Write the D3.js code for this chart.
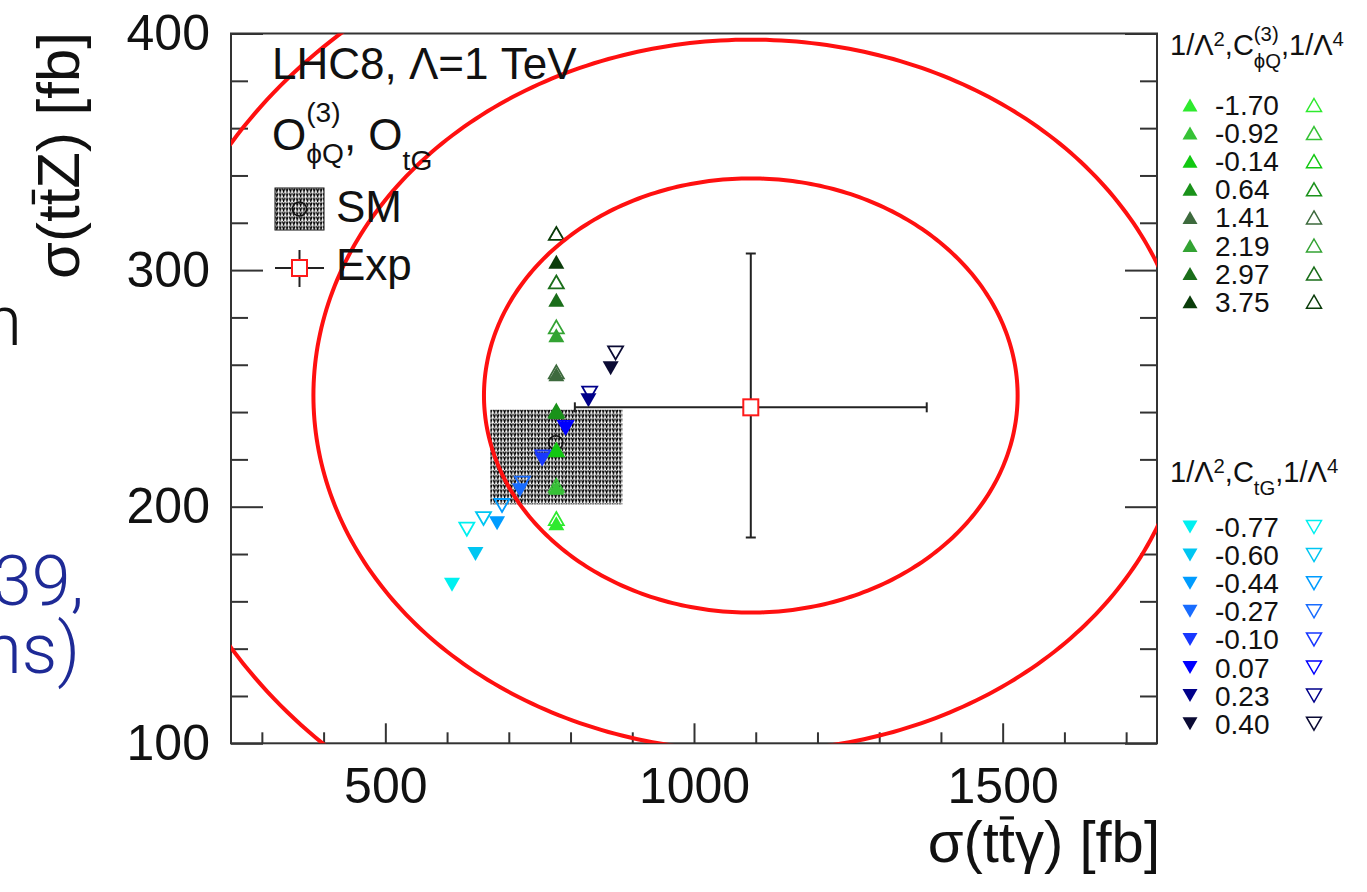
<!DOCTYPE html>
<html>
<head>
<meta charset="utf-8">
<script src="https://cdn.jsdelivr.net/npm/d3@7"></script>
<style>
  body { margin: 0; background: #fff; }
  svg { display: block; font-family: "Liberation Sans", Arial, Helvetica, sans-serif; }
</style>
</head>
<body>
<svg id="chart" width="1367" height="892"></svg>
<script>
// ---- data ----
const xDomain = [250, 1750];
const yDomain = [100, 400];
const xMajorTicks = [500, 1000, 1500];
const xMinorTicks = [300, 400, 600, 700, 800, 900, 1100, 1200, 1300, 1400, 1600, 1700];
const yMajorTicks = [100, 200, 300, 400];
const yMinorTicks = [120, 140, 160, 180, 220, 240, 260, 280, 320, 340, 360, 380];

// measurement (Exp) with errors
const expPoint = { x: 1092, y: 242 };
const expErrX = [285, 285];     // minus, plus
const expErrY = [55, 65];

// chi2 contours: centre, widths and delta-chi2 levels (68%, 95%, 99.7%)
const fitCentre = { x: 1092, y: 247 };
const fitSigma = { x: 285, y: 60.5 };
const contourLevels = [2.30, 6.18, 11.83];

// SM prediction with scale band
const smPoint = { x: 776, y: 227 };
const smBandX = [670, 884];
const smBandY = [201, 241];

// C_phiQ^(3) scan
const phiQValues = [-1.70, -0.92, -0.14, 0.64, 1.41, 2.19, 2.97, 3.75];
const phiQColours = ["#2eea2e", "#36c236", "#12c812", "#1a921a", "#3d6a3d", "#33a333", "#1a6e1a", "#0a3c0a"];
const phiQLinX = [777, 777, 777, 777, 777, 777, 777, 777];
const phiQLinY = [193, 208, 224, 240, 256, 272.5, 287.5, 303.5];
const phiQQuadX = [777, 777, 777, 777, 777, 777, 777, 777];
const phiQQuadY = [195, 209, 224, 240.5, 257, 276, 295, 315.5];

// C_tG scan
const tGValues = [-0.77, -0.60, -0.44, -0.27, -0.10, 0.07, 0.23, 0.40];
const tGColours = ["#00f0f0", "#00c6f2", "#009cff", "#186cff", "#1838ff", "#0000ff", "#00008a", "#0b0b34"];
const tGLinX = [608, 646, 681, 718, 754, 792, 829, 865];
const tGLinY = [167, 180, 193, 207, 220, 233, 245, 258.5];
const tGQuadX = [632, 659, 689, 722, 755, 792, 831, 873];
const tGQuadY = [190.5, 195, 200.5, 210, 221, 233.5, 248, 265];

// ---- drawing ----
const svg = d3.select("#chart");
const pLeft = 231, pRight = 1157, pTop = 33.5, pBottom = 743.3;

const x = d3.scaleLinear().domain(xDomain).range([pLeft, pRight]);
const y = d3.scaleLinear().domain(yDomain).range([pBottom, pTop]);

const defs = svg.append("defs");
defs.append("clipPath").attr("id", "plotClip")
  .append("rect").attr("x", pLeft).attr("y", pTop)
  .attr("width", pRight - pLeft).attr("height", pBottom - pTop);

// dense ROOT-like "vvvv" hatch for the SM band
const hatch = defs.append("pattern")
  .attr("id", "smHatch").attr("patternUnits", "userSpaceOnUse")
  .attr("width", 3.4).attr("height", 4.7);
hatch.append("rect").attr("width", 3.4).attr("height", 4.7).attr("fill", "#fff");
hatch.append("path")
  .attr("d", "M0.3,0.4L1.4,3.8L2.5,0.4")
  .attr("stroke", "#000").attr("stroke-width", 1.25).attr("fill", "none");

function tri(w, h, down) {
  const s = down ? -1 : 1;
  return `M0,${-s * h / 2}L${w / 2},${s * h / 2}L${-w / 2},${s * h / 2}Z`;
}
const fmtCoef = d => d3.format(".2f")(d).replace("−", "-");

// slide fragments cut at the left edge
const slide = svg.append("g")
  .style("font-family", "Roboto, 'Open Sans', 'Liberation Sans', sans-serif")
  .style("font-weight", 300).attr("font-size", 70).attr("text-anchor", "end");
slide.append("text").attr("x", 22).attr("y", 345).attr("fill", "#111").text("n");
slide.append("text").attr("x", 84).attr("y", 605).attr("fill", "#1e2a96").text("39,");
slide.append("text").attr("x", 80).attr("y", 673).attr("fill", "#1e2a96").text("ns)");

// axes
function styleAxis(g) {
  g.select(".domain").remove();
  g.selectAll(".tick line").attr("stroke", "#333").attr("stroke-width", 2);
  g.selectAll(".tick text").attr("fill", "#111").attr("font-size", 50)
    .attr("font-family", "'Liberation Sans', Arial, Helvetica, sans-serif");
}
svg.append("g").attr("transform", `translate(0,${pBottom})`)
  .call(d3.axisBottom(x).tickValues(xMinorTicks).tickSizeInner(-11).tickSizeOuter(0).tickFormat(""))
  .call(styleAxis);
svg.append("g").attr("transform", `translate(0,${pBottom})`)
  .call(d3.axisBottom(x).tickValues(xMajorTicks).tickSizeInner(-20).tickSizeOuter(0).tickPadding(24).tickFormat(d3.format("d")))
  .call(styleAxis);
svg.append("g").attr("transform", `translate(${pLeft},0)`)
  .call(d3.axisLeft(y).tickValues(yMinorTicks).tickSizeInner(-17).tickSizeOuter(0).tickFormat(""))
  .call(styleAxis);
svg.append("g").attr("transform", `translate(${pLeft},0)`)
  .call(d3.axisLeft(y).tickValues(yMajorTicks).tickSizeInner(-32).tickSizeOuter(0).tickPadding(21).tickFormat(d3.format("d")))
  .call(styleAxis);
svg.append("g").attr("transform", `translate(${pRight},0)`)
  .call(d3.axisRight(y).tickValues(yMinorTicks).tickSizeInner(-17).tickSizeOuter(0).tickFormat(""))
  .call(styleAxis);
svg.append("g").attr("transform", `translate(${pRight},0)`)
  .call(d3.axisRight(y).tickValues(yMajorTicks).tickSizeInner(-32).tickSizeOuter(0).tickFormat(""))
  .call(styleAxis);

// frame
svg.append("rect").attr("x", pLeft).attr("y", pTop)
  .attr("width", pRight - pLeft).attr("height", pBottom - pTop)
  .attr("fill", "none").attr("stroke", "#333").attr("stroke-width", 2);

const plot = svg.append("g").attr("clip-path", "url(#plotClip)");

// SM band and central value
plot.append("rect")
  .attr("x", x(smBandX[0])).attr("y", y(smBandY[1]))
  .attr("width", x(smBandX[1]) - x(smBandX[0]))
  .attr("height", y(smBandY[0]) - y(smBandY[1]))
  .attr("fill", "url(#smHatch)");
plot.append("circle").attr("cx", x(smPoint.x)).attr("cy", y(smPoint.y)).attr("r", 7)
  .attr("fill", "none").attr("stroke", "#111").attr("stroke-width", 1.6);

// markers
function drawSeries(xs, ys, colours, down, open) {
  plot.append("g").selectAll("path")
    .data(xs.map((v, i) => ({ x: v, y: ys[i], c: colours[i] })))
    .join("path")
    .attr("transform", d => `translate(${x(d.x)},${y(d.y)})`)
    .attr("d", open ? tri(15, 13, down) : tri(16, 14, down))
    .attr("fill", open ? "none" : d => d.c)
    .attr("stroke", open ? d => d.c : "none")
    .attr("stroke-width", 1.8);
}
drawSeries(phiQQuadX, phiQQuadY, phiQColours, false, true);
drawSeries(phiQLinX, phiQLinY, phiQColours, false, false);
drawSeries(tGQuadX, tGQuadY, tGColours, true, true);
drawSeries(tGLinX, tGLinY, tGColours, true, false);

// chi2 contours
const angles = d3.range(0, 2 * Math.PI, Math.PI / 180);
const contourLine = d3.line().x(d => x(d[0])).y(d => y(d[1])).curve(d3.curveLinearClosed);
plot.selectAll("path.contour")
  .data(contourLevels)
  .join("path").attr("class", "contour")
  .attr("d", c => contourLine(angles.map(a => [
    fitCentre.x + Math.sqrt(c) * fitSigma.x * Math.cos(a),
    fitCentre.y + Math.sqrt(c) * fitSigma.y * Math.sin(a)])))
  .attr("fill", "none").attr("stroke", "#ff1010").attr("stroke-width", 4);

// experimental point
const ex = plot.append("g").attr("stroke", "#222").attr("stroke-width", 2);
const xl = x(expPoint.x - expErrX[0]), xr = x(expPoint.x + expErrX[1]);
const yb = y(expPoint.y - expErrY[0]), yt = y(expPoint.y + expErrY[1]);
ex.append("line").attr("x1", xl).attr("x2", xr).attr("y1", y(expPoint.y)).attr("y2", y(expPoint.y));
ex.append("line").attr("x1", x(expPoint.x)).attr("x2", x(expPoint.x)).attr("y1", yt).attr("y2", yb);
[xl, xr].forEach(v => ex.append("line").attr("x1", v).attr("x2", v)
  .attr("y1", y(expPoint.y) - 5).attr("y2", y(expPoint.y) + 5));
[yt, yb].forEach(v => ex.append("line").attr("y1", v).attr("y2", v)
  .attr("x1", x(expPoint.x) - 5).attr("x2", x(expPoint.x) + 5));
plot.append("rect").attr("x", x(expPoint.x) - 7.5).attr("y", y(expPoint.y) - 8)
  .attr("width", 15).attr("height", 16)
  .attr("fill", "#fff").attr("stroke", "#ff1a1a").attr("stroke-width", 2);

// rich text helper: parts {t, s: scale, dy: baseline shift in em, stack: [part, part]}
function rich(g, x0, base, size, parts) {
  let cx = x0;
  const put = p => {
    const t = g.append("text").attr("x", cx).attr("y", base + (p.dy || 0) * size)
      .attr("font-size", size * (p.s || 1)).attr("fill", "#111").text(p.t);
    return t.node().getComputedTextLength();
  };
  parts.forEach(p => {
    if (p.stack) cx += Math.max(put(p.stack[0]), put(p.stack[1]));
    else cx += put(p);
  });
}

// in-plot legend
const leg = svg.append("g");
rich(leg, 272, 79, 44, [{ t: "LHC8, Λ=1 TeV" }]);
rich(leg, 272, 150, 44, [
  { t: "O" },
  { stack: [{ t: "(3)", s: 0.64, dy: -0.64 }, { t: "ϕQ", s: 0.64, dy: 0.3 }] },
  { t: ", O" },
  { t: "tG", s: 0.64, dy: 0.45 }
]);
leg.append("rect").attr("x", 275).attr("y", 188).attr("width", 49).attr("height", 42)
  .attr("fill", "url(#smHatch)").attr("stroke", "#111").attr("stroke-width", 1);
leg.append("circle").attr("cx", 299.5).attr("cy", 209).attr("r", 7)
  .attr("fill", "none").attr("stroke", "#111").attr("stroke-width", 1.6);
rich(leg, 336, 222, 44, [{ t: "SM" }]);
leg.append("line").attr("x1", 275).attr("x2", 324).attr("y1", 268).attr("y2", 268)
  .attr("stroke", "#222").attr("stroke-width", 2);
leg.append("line").attr("x1", 299.5).attr("x2", 299.5).attr("y1", 250).attr("y2", 287)
  .attr("stroke", "#222").attr("stroke-width", 2);
leg.append("rect").attr("x", 292).attr("y", 260).attr("width", 15).attr("height", 16)
  .attr("fill", "#fff").attr("stroke", "#ff1a1a").attr("stroke-width", 2);
rich(leg, 336, 280, 44, [{ t: "Exp" }]);

// right-hand legends
function scanLegend(titleParts, titleBase, values, colours, down, rowBase) {
  const g = svg.append("g");
  rich(g, 1170, titleBase, 29, titleParts);
  const rows = g.selectAll("g.row").data(values).join("g").attr("class", "row")
    .attr("transform", (d, i) => `translate(0,${rowBase + i * 28.1})`);
  rows.append("path").attr("transform", "translate(1190,-10)")
    .attr("d", tri(15, 13, down)).attr("fill", (d, i) => colours[i]);
  rows.append("path").attr("transform", "translate(1314,-10)")
    .attr("d", tri(15, 13, down)).attr("fill", "none")
    .attr("stroke", (d, i) => colours[i]).attr("stroke-width", 1.5);
  rows.append("text").attr("x", 1215).attr("font-size", 28).attr("fill", "#111")
    .text(fmtCoef);
}
scanLegend([
  { t: "1/Λ" }, { t: "2", s: 0.7, dy: -0.32 }, { t: ",C" },
  { stack: [{ t: "(3)", s: 0.7, dy: -0.48 }, { t: "ϕQ", s: 0.7, dy: 0.45 }] },
  { t: ",1/Λ" }, { t: "4", s: 0.7, dy: -0.32 }
], 55, phiQValues, phiQColours, false, 115);
scanLegend([
  { t: "1/Λ" }, { t: "2", s: 0.7, dy: -0.32 }, { t: ",C" },
  { t: "tG", s: 0.7, dy: 0.45 },
  { t: ",1/Λ" }, { t: "4", s: 0.7, dy: -0.32 }
], 482, tGValues, tGColours, true, 537);

// axis titles with the anti-top bar drawn over the second t
function axisTitle(g, str, barIndex, size) {
  const t = g.append("text").attr("x", 0).attr("y", 0).attr("text-anchor", "end")
    .attr("font-size", size).attr("fill", "#111").text(str);
  const e = t.node().getExtentOfChar(barIndex);
  g.append("line").attr("x1", e.x + 1).attr("x2", e.x + e.width - 1)
    .attr("y1", -0.76 * size).attr("y2", -0.76 * size)
    .attr("stroke", "#111").attr("stroke-width", size * 0.055);
}
axisTitle(svg.append("g").attr("transform", "translate(1160,862)"), "σ(ttγ) [fb]", 3, 58);
axisTitle(svg.append("g").attr("transform", "translate(79,32) rotate(-90)"), "σ(ttZ) [fb]", 3, 60);
</script>
</body>
</html>
